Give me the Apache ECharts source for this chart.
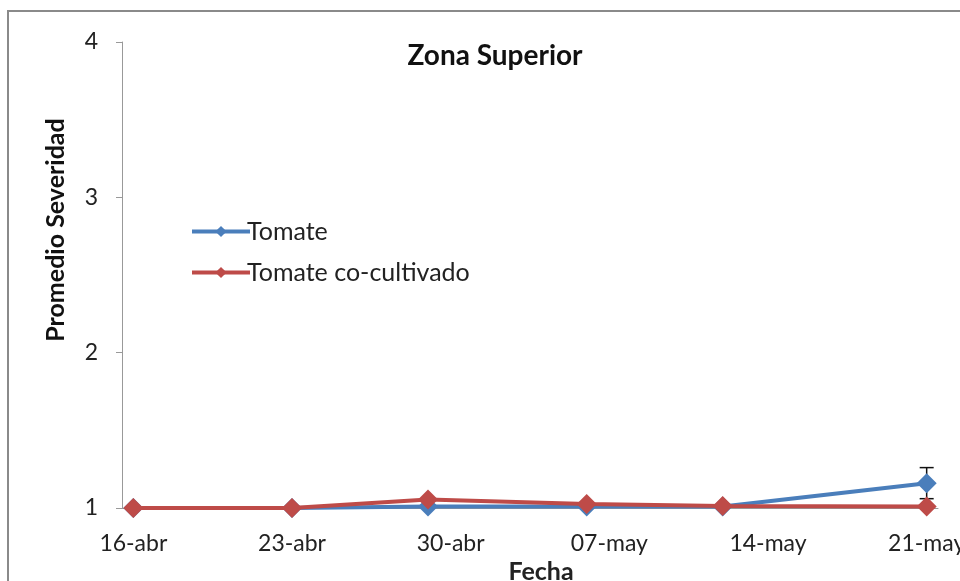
<!DOCTYPE html>
<html>
<head>
<meta charset="utf-8">
<script src="https://cdn.jsdelivr.net/npm/echarts@6/dist/echarts.min.js"></script>
<style>
  html, body { margin: 0; padding: 0; background: #fff; }
  #main { width: 960px; height: 581px; }
</style>
</head>
<body>
<div id="main"></div>
<script>
// fechas de muestreo y promedios
var pointDates = ['16-abr', '23-abr', '29-abr', '06-may', '12-may', '21-may'];
var tomate = [1.0, 1.0, 1.01, 1.01, 1.01, 1.16];
var tomateErr = [0, 0, 0, 0, 0, 0.1];
var tomateCo = [1.0, 1.0, 1.055, 1.025, 1.013, 1.01];
var tickLabels = ['16-abr', '23-abr', '30-abr', '07-may', '14-may', '21-may'];
var yTicks = [1, 2, 3, 4];

// eje de días (16-abr .. 21-may)
function pad(n) { return n < 10 ? '0' + n : '' + n; }
var days = [];
for (var d = 16; d <= 30; d++) days.push(pad(d) + '-abr');
for (var d2 = 1; d2 <= 21; d2++) days.push(pad(d2) + '-may');

function toPairs(vals) {
    return pointDates.map(function (dt, i) { return [dt, vals[i]]; });
}

var chart = echarts.init(document.getElementById('main'));
var font = 'Lato';
var option = {
    animation: false,
    textStyle: { fontFamily: font },
    title: {
        text: 'Zona Superior',
        left: 490,
        top: 37,
        textAlign: 'center',
        textStyle: { fontFamily: font, fontSize: 28, fontWeight: 'bold', color: '#111' }
    },
    legend: {
        orient: 'vertical',
        left: 185,
        top: 214,
        itemWidth: 58,
        itemHeight: 14,
        itemGap: 16,
        lineStyle: { width: 4 },
        textStyle: { fontFamily: font, fontSize: 25, color: '#222', padding: [0, 0, 0, -8] },
        data: ['Tomate', 'Tomate co-cultivado']
    },
    grid: { left: 122, top: 42, right: 22, bottom: 73, outerBoundsMode: 'none', containLabel: false },
    xAxis: {
        type: 'category',
        data: days,
        boundaryGap: true,
        name: 'Fecha',
        nameLocation: 'middle',
        nameGap: 49,
        nameTextStyle: { fontFamily: font, fontSize: 25, fontWeight: 'bold', color: '#222', padding: [0, 0, 0, 22] },
        axisLine: { lineStyle: { color: '#999', width: 1 } },
        axisTick: {
            interval: function (idx, val) { return tickLabels.indexOf(val) >= 0; },
            length: 6,
            lineStyle: { color: '#999' }
        },
        axisLabel: {
            interval: function (idx, val) { return tickLabels.indexOf(val) >= 0; },
            fontSize: 23,
            color: '#222',
            margin: 24
        },
        splitLine: { show: false }
    },
    yAxis: {
        type: 'value',
        min: yTicks[0],
        max: yTicks[yTicks.length - 1],
        interval: 1,
        axisLine: { show: true, lineStyle: { color: '#999', width: 1 } },
        axisTick: { show: true, length: 6, lineStyle: { color: '#999' } },
        axisLabel: { fontSize: 23, color: '#222', margin: 24 },
        splitLine: { show: false }
    },
    graphic: [
        {
            type: 'rect',
            shape: { x: 8, y: 11, width: 1000, height: 620 },
            style: { fill: 'none', stroke: '#8a8a8a', lineWidth: 2 },
            silent: true
        },
        {
            type: 'text',
            x: 56,
            y: 230,
            rotation: Math.PI / 2,
            style: {
                text: 'Promedio Severidad',
                fontFamily: font,
                fontSize: 25,
                fontWeight: 'bold',
                fill: '#111',
                textAlign: 'center',
                textVerticalAlign: 'middle'
            }
        }
    ],
    series: [
        {
            name: 'Tomate',
            type: 'line',
            data: toPairs(tomate),
            symbol: 'diamond',
            symbolSize: 20,
            showAllSymbol: true,
            lineStyle: { color: '#4a7ebb', width: 4 },
            itemStyle: { color: '#4a7ebb' },
            z: 2
        },
        {
            name: 'Tomate co-cultivado',
            type: 'line',
            data: toPairs(tomateCo),
            symbol: 'diamond',
            symbolSize: 20,
            showAllSymbol: true,
            lineStyle: { color: '#be4b48', width: 4 },
            itemStyle: { color: '#be4b48' },
            z: 3
        },
        {
            name: 'err',
            type: 'custom',
            z: 1,
            data: pointDates.map(function (dt, i) {
                return [dt, tomate[i] - tomateErr[i], tomate[i] + tomateErr[i]];
            }),
            renderItem: function (params, api) {
                var lo = api.coord([api.value(0), api.value(1)]);
                var hi = api.coord([api.value(0), api.value(2)]);
                if (Math.abs(hi[1] - lo[1]) < 1) return null;
                var cap = 7;
                var st = { stroke: '#111', lineWidth: 1.5 };
                return {
                    type: 'group',
                    children: [
                        { type: 'line', shape: { x1: hi[0], y1: hi[1], x2: lo[0], y2: lo[1] }, style: st },
                        { type: 'line', shape: { x1: hi[0] - cap, y1: hi[1], x2: hi[0] + cap, y2: hi[1] }, style: st },
                        { type: 'line', shape: { x1: lo[0] - cap, y1: lo[1], x2: lo[0] + cap, y2: lo[1] }, style: st }
                    ]
                };
            }
        }
    ]
};
chart.setOption(option);
</script>
</body>
</html>
